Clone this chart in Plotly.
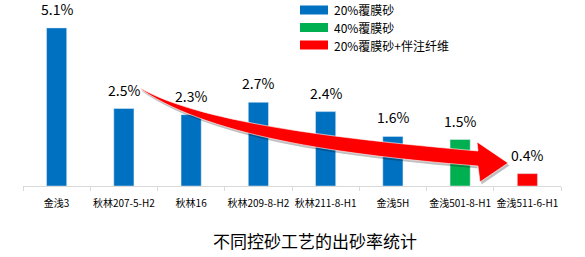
import plotly.graph_objects as go

categories = ["金浅3", "秋林207-5-H2", "秋林16", "秋林209-8-H2", "秋林211-8-H1", "金浅5H", "金浅501-8-H1", "金浅511-6-H1"]
values = [5.1, 2.5, 2.3, 2.7, 2.4, 1.6, 1.5, 0.4]
groups = [0, 0, 0, 0, 0, 0, 1, 2]
group_names = ["20%覆膜砂", "40%覆膜砂", "20%覆膜砂+伴注纤维"]
group_colors = ["#0070C0", "#00B050", "#FF0000"]
title_text = "不同控砂工艺的出砂率统计"

W, H = 585, 257
ML, MR, MT, MB = 23, 24, 0, 71
PW, PH = W - ML - MR, H - MT - MB
FONT = "Noto Sans CJK SC, Microsoft YaHei, sans-serif"

def px(x):
    return (x - ML) / PW

def py(y):
    return (H - MB - y) / PH

fig = go.Figure()
for g, name in enumerate(group_names):
    xs = [c for c, gg in zip(categories, groups) if gg == g]
    ys = [v for v, gg in zip(values, groups) if gg == g]
    fig.add_trace(go.Bar(x=xs, y=ys, name=name, marker_color=group_colors[g],
                         width=0.3, showlegend=False, hoverinfo="skip"))

for c, v in zip(categories, values):
    fig.add_annotation(x=c, y=v, text=f"{v:.1f}%", showarrow=False, yanchor="bottom",
                       yshift=7, font=dict(size=14, color="#000000", family=FONT))

# curved arrow decoration (pixel geometry -> paper coords)
def bez(p0, p1, p2, p3, n=30):
    pts = []
    for i in range(n + 1):
        t = i / n
        a, b, c, d = (1-t)**3, 3*(1-t)**2*t, 3*(1-t)*t**2, t**3
        pts.append((a*p0[0]+b*p1[0]+c*p2[0]+d*p3[0], a*p0[1]+b*p1[1]+c*p2[1]+d*p3[1]))
    return pts

upper = bez((140, 88), (200, 122), (330, 138), (478, 151))
lower = bez((478, 166), (330, 154), (210, 135), (142, 90))
head = [(477, 142), (508, 163), (480, 182)]
poly = upper + head + lower

def path_of(points, dx=0, dy=0):
    s = "M " + " L ".join(f"{px(x+dx):.5f},{py(y+dy):.5f}" for x, y in points) + " Z"
    return s

fig.add_shape(type="path", xref="paper", yref="paper", path=path_of(poly, 1.5, 2.5),
              fillcolor="rgba(0,0,0,0.25)", line=dict(width=0), layer="above")
fig.add_shape(type="path", xref="paper", yref="paper", path=path_of(poly),
              fillcolor="#FF0000", line=dict(color="#FFFFFF", width=0.6), layer="above")

# legend
leg_y = [10, 27.5, 45]
for g, name in enumerate(group_names):
    fig.add_shape(type="rect", xref="paper", yref="paper",
                  x0=px(300), x1=px(328), y0=py(leg_y[g] - 4.5), y1=py(leg_y[g] + 4.5),
                  fillcolor=group_colors[g], line=dict(width=0))
    fig.add_annotation(xref="paper", yref="paper", x=px(332), y=py(leg_y[g]), text=name,
                       showarrow=False, xanchor="left", yanchor="middle",
                       font=dict(size=12, color="#000000", family=FONT))

fig.add_annotation(xref="paper", yref="paper", x=px(315), y=py(240), text=title_text,
                   showarrow=False, xanchor="center", yanchor="middle",
                   font=dict(size=17, color="#000000", family=FONT))

fig.update_layout(
    width=W, height=H, margin=dict(l=ML, r=MR, t=MT, b=MB, autoexpand=False),
    paper_bgcolor="white", plot_bgcolor="white", barmode="overlay",
    font=dict(family=FONT, color="#000000"), hovermode=False,
)
fig.update_xaxes(type="category", categoryorder="array", categoryarray=categories,
                 showline=True, linecolor="#D9D9D9", linewidth=1, ticks="outside",
                 tickson="boundaries", ticklen=4, tickcolor="#D9D9D9",
                 tickfont=dict(size=10, family=FONT, color="#000000"),
                 ticklabelstandoff=8, showgrid=False, tickangle=0, automargin=False)
fig.update_yaxes(range=[0, 6.0], visible=False, showgrid=False, automargin=False)

fig.write_html("out.html", config={"displayModeBar": False},
               post_script="document.body.style.margin='0';document.body.style.overflow='hidden';")
